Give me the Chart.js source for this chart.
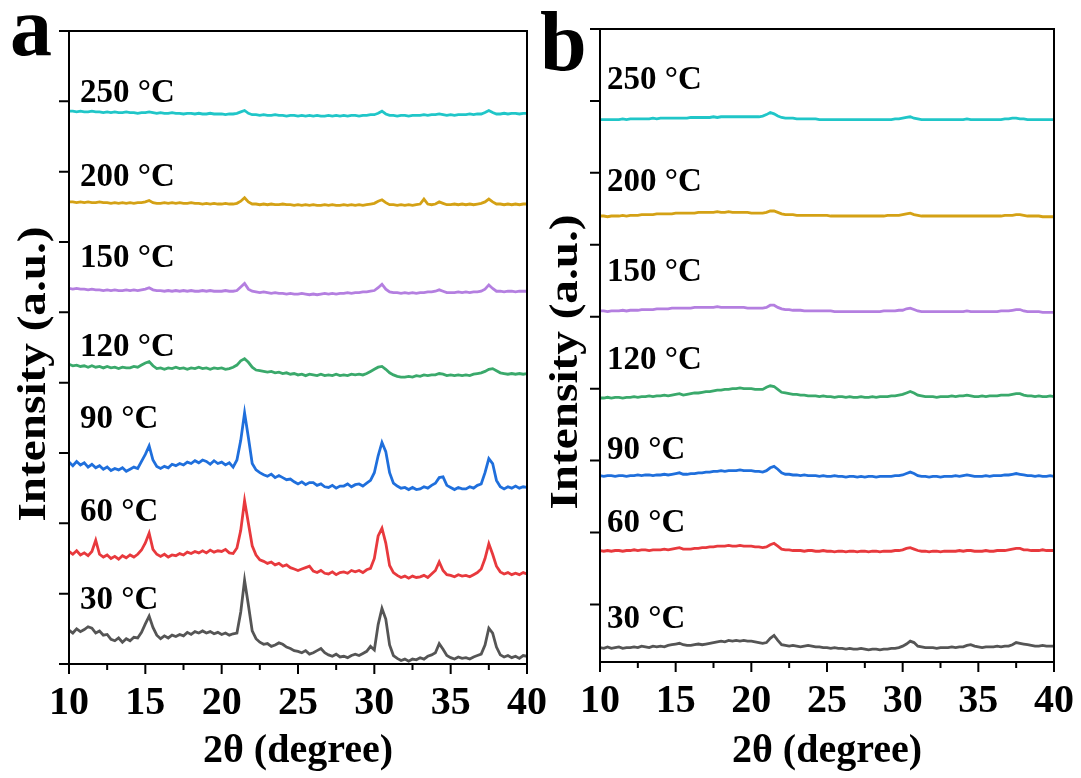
<!DOCTYPE html>
<html>
<head>
<meta charset="utf-8">
<title>XRD patterns</title>
<script src="https://cdn.jsdelivr.net/npm/chart.js@4.4.1/dist/chart.umd.min.js"></script>
<style>
  html, body { margin: 0; padding: 0; background: #fff; }
  #wrap { position: relative; width: 1081px; height: 778px; overflow: hidden; }
  canvas { position: absolute; top: 0; }
  #chartA { left: 0; }
  #chartB { left: 530px; }
</style>
</head>
<body>
<div id="wrap">
  <canvas id="chartA" width="570" height="778"></canvas>
  <canvas id="chartB" width="565" height="778"></canvas>
</div>
<script>
// 2-theta sampling (degree)
const twoTheta = [
  10,10.25,10.5,10.75, 11,11.25,11.5,11.75, 12,12.25,12.5,12.75, 13,13.25,13.5,13.75,
  14,14.25,14.5,14.75, 15,15.25,15.5,15.75, 16,16.25,16.5,16.75, 17,17.25,17.5,17.75,
  18,18.25,18.5,18.75, 19,19.25,19.5,19.75, 20,20.25,20.5,20.75, 21,21.25,21.5,21.75,
  22,22.25,22.5,22.75, 23,23.25,23.5,23.75, 24,24.25,24.5,24.75, 25,25.25,25.5,25.75,
  26,26.25,26.5,26.75, 27,27.25,27.5,27.75, 28,28.25,28.5,28.75, 29,29.25,29.5,29.75,
  30,30.25,30.5,30.75, 31,31.25,31.5,31.75, 32,32.25,32.5,32.75, 33,33.25,33.5,33.75,
  34,34.25,34.5,34.75, 35,35.25,35.5,35.75, 36,36.25,36.5,36.75, 37,37.25,37.5,37.75,
  38,38.25,38.5,38.75, 39,39.25,39.5,39.75, 40
];

const temps = ['30 °C', '60 °C', '90 °C', '120 °C', '150 °C', '200 °C', '250 °C'];
const lineColors = ['#555555', '#e8393d', '#1f6fdc', '#3aa96b', '#b47fe0', '#d4a115', '#20c6c8'];

// panel a, stacked intensity (a.u.)
const a30 = [48,44,50,46, 49,53,51,44, 47,41,42,35, 33,37,31,36, 33,38,37,45, 57,68,52,41, 36,40,37,41, 39,42,40,45,
  42,46,44,47, 44,46,43,45, 42,44,41,43, 44,74,119,84, 47,36,31,28, 29,25,27,30, 28,24,22,19, 18,16,19,14,
  16,19,22,16, 13,11,14,10, 11,9,12,14, 12,15,18,25, 20,56,79,64, 27,12,8,5, 7,4,7,6, 9,7,11,13,
  16,29,21,12, 9,7,10,8, 9,7,10,12, 14,27,51,44, 24,13,10,12, 9,11,8,12, 11];
const a60 = [160,156,161,155, 158,154,160,176, 156,152,155,150, 153,149,154,151, 155,152,156,162, 172,186,163,156, 153,156,152,155, 154,157,155,159,
  157,160,158,161, 158,162,159,161, 160,163,158,157, 165,190,232,200, 168,155,148,146, 143,145,141,143, 139,141,137,135, 133,135,137,139,
  132,130,133,129, 128,131,127,130, 131,129,133,131, 133,130,134,136, 150,182,193,172, 140,130,126,123, 125,122,125,123, 124,126,123,128,
  133,145,133,127, 126,124,127,125, 126,124,127,130, 135,150,171,156, 139,131,128,130, 127,129,127,130, 128];
const a90 = [287,282,288,283, 286,280,284,279, 282,277,280,275, 278,276,279,274, 277,280,278,288, 298,310,290,281, 278,281,279,284, 282,285,283,287,
  285,289,286,290, 288,284,289,285, 287,283,286,280, 290,318,357,322, 285,276,272,269, 267,270,265,268, 265,262,263,259, 256,259,255,258,
  258,254,256,252, 251,254,250,253, 253,256,252,255, 256,253,257,261, 272,296,315,302, 272,257,253,250, 251,248,251,248, 249,252,250,254,
  257,265,266,254, 251,248,251,249, 249,252,250,254, 256,272,292,285, 261,252,249,252, 250,253,250,252, 251];
const a120 = [426,424,425,423, 424,422,424,422, 423,421,423,421, 422,420,422,421, 421,423,422,425, 428,430,424,420, 421,419,421,420, 422,420,421,419,
  421,420,422,420, 421,419,421,420, 421,419,420,422, 425,431,434,429, 422,418,417,416, 415,416,414,415, 413,414,412,413, 411,412,410,412,
  411,410,412,410, 411,410,412,410, 411,410,412,411, 412,411,413,416, 419,422,423,419, 414,411,409,408, 408,409,408,410, 409,411,410,411,
  411,413,412,410, 411,410,411,410, 411,410,412,413, 414,416,419,420, 417,414,413,412, 413,412,413,412, 413];
const a150 = [534,533,534,533, 533,532,533,532, 532,531,532,531, 532,531,531,532, 531,532,531,532, 533,535,532,531, 531,530,531,530, 531,530,531,530,
  531,530,530,531, 530,531,530,530, 530,531,530,530, 531,536,541,533, 530,529,528,529, 528,527,528,527, 527,526,527,526, 526,527,526,525,
  526,525,526,527, 526,527,526,527, 527,528,527,528, 528,529,529,530, 531,535,540,533, 529,528,528,527, 528,527,528,527, 528,528,529,529,
  530,532,530,528, 528,528,529,528, 529,528,529,529, 530,533,539,534, 530,530,529,530, 530,529,530,530, 530];
const a200 = [657,657,656,657, 656,657,656,656, 657,656,656,655, 656,655,656,655, 656,655,656,656, 657,659,656,655, 655,656,655,656, 655,656,655,655,
  656,655,655,654, 655,654,655,654, 654,655,654,654, 655,658,663,657, 654,654,653,654, 653,654,653,653, 654,653,653,652, 653,652,653,652,
  653,652,652,653, 652,653,652,652, 653,652,653,652, 653,652,653,654, 655,658,660,656, 653,653,652,653, 652,653,652,653, 654,661,654,653,
  654,657,655,653, 653,654,653,654, 653,654,653,654, 655,657,661,657, 654,654,653,654, 653,654,653,654, 654];
const a250 = [786,786,785,786, 785,785,786,785, 785,784,785,784, 785,784,784,785, 784,784,783,784, 784,785,784,783, 784,783,783,784, 783,783,782,783,
  783,782,783,782, 782,783,782,782, 782,781,782,782, 783,785,787,783, 781,781,780,781, 780,780,781,780, 780,779,780,780, 779,780,779,780,
  779,780,779,779, 780,779,780,779, 780,779,780,780, 779,780,780,781, 781,783,786,782, 780,780,779,780, 780,779,780,780, 780,781,780,781,
  781,782,781,780, 781,780,781,781, 781,782,781,782, 782,784,787,784, 782,782,783,782, 783,783,782,783, 783];

// panel b, stacked intensity (a.u.)
const b30 = [-60,-61,-59,-61, -60,-59,-61,-60, -60,-59,-60,-58, -59,-60,-58,-59, -58,-59,-57,-56, -55,-54,-56,-57, -57,-56,-55,-56, -55,-54,-53,-52,
  -51,-52,-50,-51, -50,-51,-50,-51, -51,-52,-53,-54, -53,-47,-43,-50, -56,-57,-58,-57, -58,-59,-58,-57, -58,-59,-59,-60, -60,-61,-60,-61,
  -61,-62,-61,-62, -62,-61,-62,-63, -62,-62,-63,-62, -62,-61,-61,-60, -58,-55,-51,-53, -58,-59,-60,-60, -60,-61,-60,-60, -60,-59,-60,-59,
  -59,-57,-56,-58, -59,-60,-59,-59, -59,-58,-59,-58, -58,-56,-53,-54, -55,-56,-57,-58, -58,-57,-58,-58, -58];
const b60 = [75,74,75,74, 75,75,74,75, 75,76,75,76, 76,75,76,76, 76,77,76,77, 78,79,77,77, 77,78,78,79, 79,80,80,81,
  81,81,82,81, 81,82,81,81, 81,80,80,79, 80,83,85,81, 77,76,76,75, 75,75,74,75, 75,74,74,75, 74,74,73,74,
  74,73,74,74, 73,74,74,73, 74,74,73,74, 74,74,75,75, 76,78,79,77, 75,74,74,73, 74,74,73,74, 74,74,74,75,
  74,75,75,74, 74,74,75,74, 74,75,75,75, 76,77,78,78, 76,76,75,75, 75,76,75,75, 75];
const b90 = [179,178,179,179, 178,179,179,178, 179,179,180,179, 180,180,179,180, 180,181,180,181, 182,183,181,181, 182,182,183,183, 184,184,185,185,
  186,185,186,186, 186,187,186,186, 186,185,185,184, 186,190,192,188, 183,181,181,180, 180,179,180,179, 179,179,178,179, 178,178,179,178,
  178,177,178,178, 177,178,177,178, 178,177,178,178, 178,178,179,179, 180,182,184,182, 179,178,178,177, 178,178,177,178, 178,178,179,178,
  179,180,179,178, 178,178,179,178, 179,179,179,180, 180,181,182,181, 180,179,179,178, 179,178,178,179, 178];
const b120 = [287,287,288,287, 288,288,287,288, 288,289,288,289, 289,290,289,290, 290,291,290,291, 292,293,291,292, 293,294,294,295, 296,296,297,298,
  298,299,299,300, 300,301,300,300, 300,299,299,299, 302,304,303,299, 295,294,293,292, 292,291,291,290, 290,290,289,290, 289,289,288,289,
  289,288,289,288, 288,289,288,288, 289,288,289,289, 289,290,290,291, 292,294,296,294, 291,290,289,289, 289,288,289,289, 289,290,289,290,
  290,291,290,289, 289,290,289,290, 290,290,291,291, 291,292,293,293, 291,290,290,289, 290,289,289,290, 289];
const b150 = [408,408,407,408, 408,408,409,408, 409,409,409,410, 410,410,410,411, 411,411,411,412, 412,412,412,412, 412,413,413,413, 413,413,413,414,
  413,413,413,413, 413,413,413,412, 412,412,412,412, 413,416,416,413, 411,410,410,409, 409,409,408,408, 408,408,408,408, 408,408,407,407,
  407,407,407,407, 407,407,407,407, 407,407,407,408, 408,408,408,409, 409,411,412,410, 408,407,407,407, 407,407,407,407, 407,407,407,407,
  407,408,407,407, 407,407,407,407, 407,407,408,408, 408,409,410,410, 408,407,407,407, 407,406,406,406, 406];
const b200 = [540,540,539,540, 540,540,541,540, 541,541,541,542, 542,542,542,543, 543,543,543,543, 544,544,544,544, 544,544,545,545, 545,545,545,546,
  545,545,546,545, 545,545,545,545, 544,544,544,544, 545,547,547,545, 543,542,542,542, 541,541,541,541, 541,541,541,541, 541,540,540,540,
  540,540,540,540, 540,540,540,540, 540,540,540,540, 541,541,541,541, 542,543,544,542, 541,540,540,540, 540,540,540,540, 540,540,540,540,
  540,540,540,540, 540,540,540,540, 540,540,540,541, 541,541,542,542, 541,540,540,540, 540,539,539,539, 539];
const b250 = [674,674,674,674, 674,674,675,674, 675,675,675,675, 675,675,676,675, 676,676,676,676, 676,676,676,676, 677,677,677,677, 677,677,678,677,
  678,678,678,678, 678,678,678,678, 678,678,678,679, 681,684,682,679, 677,676,676,676, 675,675,675,675, 675,675,674,674, 674,674,674,674,
  674,674,674,674, 674,674,674,674, 674,674,674,674, 674,674,675,675, 676,677,678,676, 675,674,674,674, 674,674,674,674, 674,674,674,674,
  674,675,674,674, 674,674,674,674, 674,674,674,675, 675,676,676,675, 675,674,674,674, 674,674,674,674, 674];

// tick marks
const xTickMarks = [10, 12.5, 15, 17.5, 20, 22.5, 25, 27.5, 30, 32.5, 35, 37.5, 40];
const yTicksA = [0, 100, 200, 300, 400, 500, 600, 700, 800, 900];
const yTicksB = [0, 100, 200, 300, 400, 500, 600, 700, 800];

const serif = '"Liberation Serif", "Times New Roman", serif';

// box, outward ticks, curve labels, y title and panel letter
const frameTicks = {
  id: 'frameTicks',
  afterDatasetsDraw(chart, args, opts) {
    const { ctx, chartArea: area, scales: { x, y } } = chart;
    ctx.save();
    ctx.strokeStyle = '#000';
    ctx.lineWidth = 2;
    ctx.strokeRect(area.left, area.top, area.right - area.left, area.bottom - area.top);
    ctx.beginPath();
    xTickMarks.forEach(v => {
      const px = x.getPixelForValue(v);
      const len = v % 5 === 0 ? 10 : 6;
      ctx.moveTo(px, area.bottom);
      ctx.lineTo(px, area.bottom + len);
    });
    opts.yTicks.forEach(v => {
      const py = y.getPixelForValue(v);
      ctx.moveTo(area.left, py);
      ctx.lineTo(area.left - 10, py);
    });
    ctx.stroke();

    ctx.fillStyle = '#000';
    ctx.font = 'bold 33px ' + serif;
    ctx.textAlign = 'left';
    ctx.textBaseline = 'middle';
    opts.labelAt.forEach((v, i) => {
      ctx.fillText(temps[i], area.left + opts.labelDx, y.getPixelForValue(v));
    });

    // the y title runs a little long, so stretch it along its length
    ctx.save();
    ctx.translate(opts.titleX, opts.titleY);
    ctx.rotate(-Math.PI / 2);
    ctx.scale(1.18, 1);
    ctx.textAlign = 'center';
    ctx.font = 'bold 40px ' + serif;
    ctx.fillText('Intensity (a.u.)', 0, 0);
    ctx.restore();

    ctx.font = 'bold 84px ' + serif;
    ctx.textBaseline = 'alphabetic';
    ctx.fillText(opts.letter, opts.letterX, opts.letterY);
    ctx.restore();
  }
};

function buildChart(canvasId, series, cfg) {
  return new Chart(document.getElementById(canvasId), {
    type: 'line',
    data: {
      datasets: series.map((vals, i) => ({
        label: temps[i],
        data: twoTheta.map((t, k) => ({ x: t, y: vals[k] })),
        borderColor: lineColors[i],
        borderWidth: 2.8,
        pointRadius: 0,
        tension: 0,
        fill: false
      }))
    },
    options: {
      responsive: false,
      animation: false,
      devicePixelRatio: 1,
      layout: { padding: cfg.padding },
      plugins: {
        legend: { display: false },
        tooltip: { enabled: false },
        frameTicks: cfg.frame
      },
      scales: {
        x: {
          type: 'linear',
          min: 10,
          max: 40,
          grid: { display: false, drawTicks: false },
          border: { display: false },
          ticks: {
            stepSize: 5,
            color: '#000',
            padding: 16,
            maxRotation: 0,
            font: { family: serif, size: 40, weight: 'bold' }
          },
          title: {
            display: true,
            text: '2θ (degree)',
            color: '#000',
            padding: { top: 0, bottom: 2 },
            font: { family: serif, size: 40, weight: 'bold' }
          },
          afterFit: s => { s.height = cfg.xHeight; }
        },
        y: {
          min: cfg.yMin,
          max: cfg.yMax,
          grid: { display: false, drawTicks: false },
          border: { display: false },
          ticks: { display: false },
          afterFit: s => { s.width = cfg.yWidth; }
        }
      }
    },
    plugins: [frameTicks]
  });
}

buildChart('chartA', [a30, a60, a90, a120, a150, a200, a250], {
  padding: { top: 31, right: 43, bottom: 0, left: 0 },
  xHeight: 114,
  yWidth: 69,
  yMin: 0,
  yMax: 900,
  frame: {
    yTicks: yTicksA,
    labelAt: [90, 216, 348, 450, 577, 692, 811],
    labelDx: 11,
    titleX: 35, titleY: 374,
    letter: 'a', letterX: 10, letterY: 55
  }
});

buildChart('chartB', [b30, b60, b90, b120, b150, b200, b250], {
  padding: { top: 29, right: 41, bottom: 0, left: 0 },
  xHeight: 116,
  yWidth: 70,
  yMin: -80,
  yMax: 800,
  frame: {
    yTicks: yTicksB,
    labelAt: [-21, 112, 214, 339, 462, 586, 729],
    labelDx: 7,
    titleX: 37, titleY: 362,
    letter: 'b', letterX: 10, letterY: 70
  }
});
</script>
</body>
</html>
